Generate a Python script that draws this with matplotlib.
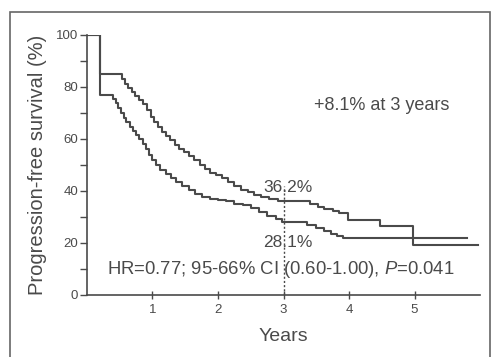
import matplotlib.pyplot as plt
from matplotlib.patches import Rectangle

plt.rcParams['font.family'] = ['Liberation Sans', 'DejaVu Sans']
plt.rcParams['mathtext.fontset'] = 'custom'
plt.rcParams['mathtext.it'] = 'Liberation Sans:italic'
plt.rcParams['mathtext.rm'] = 'Liberation Sans'

# upper curve (step times in years, survival %)
upper_t = [0, 0.2, 0.53, 0.58, 0.63, 0.68, 0.73, 0.8, 0.86, 0.92,
           0.97, 1.02, 1.08, 1.14, 1.2, 1.27, 1.34, 1.41, 1.48, 1.56,
           1.64, 1.72, 1.8, 1.88, 1.97, 2.06, 2.15, 2.25, 2.35, 2.45,
           2.55, 2.65, 2.78, 2.92, 3.4, 3.52, 3.62, 3.75, 3.85, 3.98,
           4.47, 4.98, 5.97]
upper_s = [100, 85, 83, 81, 79.5, 78, 76.5, 75, 73.5, 71,
           68.5, 66.5, 64.5, 62.5, 61, 59.5, 57.5, 56, 55, 53.5,
           52, 50, 48.5, 47, 46, 45, 43.5, 42, 40.5, 39.5,
           38.5, 37.5, 37, 36.2, 35, 34, 33, 32.2, 31.5, 28.8,
           26.5, 19.2, 19.2]

# lower curve
lower_t = [0, 0.2, 0.40, 0.44, 0.48, 0.52, 0.56, 0.6, 0.65, 0.7,
           0.75, 0.8, 0.85, 0.9, 0.95, 1.0, 1.05, 1.12, 1.2, 1.28,
           1.36, 1.45, 1.55, 1.65, 1.75, 1.88, 2.0, 2.12, 2.25, 2.38,
           2.5, 2.62, 2.75, 2.88, 2.97, 3.36, 3.5, 3.62, 3.72, 3.82,
           3.9, 5.8]
lower_s = [100, 77, 75.5, 74, 72, 70, 68, 66.5, 64.5, 63,
           61.5, 60, 58, 56, 54, 52, 50, 48, 46.5, 45,
           43.5, 42, 40.5, 39, 37.8, 37, 36.5, 36, 35, 34.5,
           33.5, 32, 30.5, 29.2, 28.1, 27, 25.8, 24.5, 23.3, 22.6,
           22, 22]

x_ticks = [1, 2, 3, 4, 5]
y_ticks = [0, 20, 40, 60, 80, 100]

col = '#4a4a4a'

fig = plt.figure(figsize=(4.97, 3.57), dpi=100)
ax = fig.add_axes([0.175, 0.174, 0.791, 0.728])

ax.step(upper_t, upper_s, where='post', color=col, lw=1.5)
ax.step(lower_t, lower_s, where='post', color=col, lw=1.5)
ax.plot([3, 3], [0, 42], color=col, lw=1, ls=(0, (1.5, 1.5)))

ax.text(3.07, 41.5, '36.2%', ha='center', va='center', fontsize=12.5, color=col)
ax.text(3.07, 20, '28.1%', ha='center', va='center', fontsize=12.5, color=col)
ax.text(3.47, 73, '+8.1% at 3 years', ha='left', va='center', fontsize=13, color=col)
ax.text(0.3, 9.6, r'HR=0.77; 95-66% CI (0.60-1.00), $P$=0.041', ha='left',
        va='center', fontsize=13.3, color=col)

ax.set_xlim(0, 6)
ax.set_ylim(0, 100)
for s in ['top', 'right']:
    ax.spines[s].set_visible(False)
for s in ['left', 'bottom']:
    ax.spines[s].set_color(col)
    ax.spines[s].set_linewidth(1.2)

ax.set_xticks(x_ticks)
ax.set_yticks(y_ticks)
ax.set_yticks([10, 30, 50, 70, 90], minor=True)
ax.tick_params(axis='y', which='both', direction='out', length=5, color=col,
               labelcolor=col, labelsize=9.5, width=1, pad=1.5)
ax.tick_params(axis='x', direction='inout', length=6, color=col,
               labelcolor=col, labelsize=9.5, width=1)
ax.set_xlabel('Years', fontsize=14, color=col, labelpad=9)
ax.set_ylabel('Progression-free survival (%)', fontsize=14.5, color=col, labelpad=6)

# outer frame of the figure panel
fig.patches.append(Rectangle((10 / 497, -0.02), 480 / 497, 0.986, transform=fig.transFigure,
                             fill=False, edgecolor='#666666', lw=1.2))

fig.savefig('out.png', dpi=100)
